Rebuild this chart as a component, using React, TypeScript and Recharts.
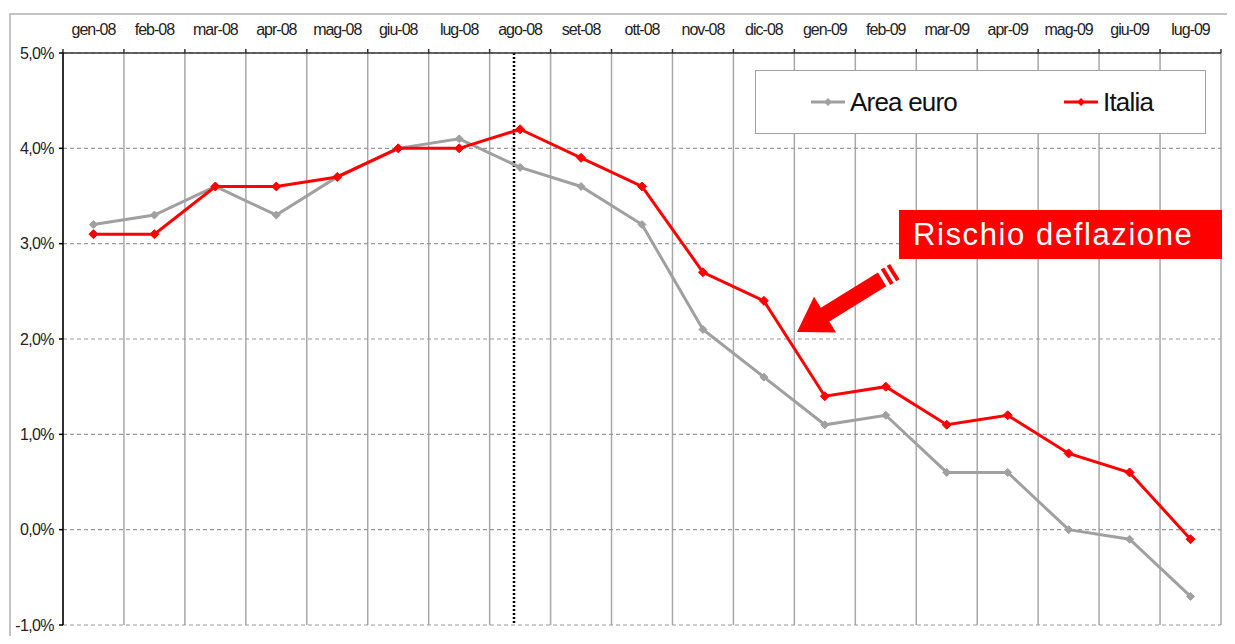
import React from 'react';
import {
  LineChart,
  Line,
  XAxis,
  YAxis,
  CartesianGrid,
  ReferenceLine,
  Legend,
  Customized,
} from 'recharts';

const months = [
  'gen-08', 'feb-08', 'mar-08', 'apr-08', 'mag-08', 'giu-08', 'lug-08', 'ago-08', 'set-08', 'ott-08',
  'nov-08', 'dic-08', 'gen-09', 'feb-09', 'mar-09', 'apr-09', 'mag-09', 'giu-09', 'lug-09',
];
const areaEuro = [3.2, 3.3, 3.6, 3.3, 3.7, 4.0, 4.1, 3.8, 3.6, 3.2, 2.1, 1.6, 1.1, 1.2, 0.6, 0.6, 0.0, -0.1, -0.7];
const italia = [3.1, 3.1, 3.6, 3.6, 3.7, 4.0, 4.0, 4.2, 3.9, 3.6, 2.7, 2.4, 1.4, 1.5, 1.1, 1.2, 0.8, 0.6, -0.1];
const yTicks = [-1, 0, 1, 2, 3, 4, 5];
const seriesNames = { areaEuro: 'Area euro', italia: 'Italia' };
const annotationText = 'Rischio deflazione';
const markerPosition = 6.9; // dotted marker between lug-08 and ago-08

const boundaries = months.map((_, i) => i - 0.5).concat([months.length - 0.5]);
const data = months.map((m, i) => ({ i, m, areaEuro: areaEuro[i], italia: italia[i] }));

const W = 1227;
const H = 628;
const MARGIN = { top: 0, right: 14, bottom: 11, left: 0 };
const Y_W = 55;
const X_H = 45;
const STEP = (W - MARGIN.left - MARGIN.right - Y_W) / months.length;

const FONT = '"Liberation Sans", Arial, sans-serif';
const GRAY = '#a0a0a0';
const RED = '#ff0000';

const XTick = (props: any) => {
  const { x, y, payload } = props;
  const idx = Math.round(payload.value + 0.5);
  if (idx < 0 || idx >= months.length) return null;
  return (
    <text
      x={x + STEP / 2}
      y={y - 12}
      textAnchor="middle"
      fontSize={16}
      letterSpacing={-1}
      fontFamily={FONT}
      fill="#222"
    >
      {months[idx]}
    </text>
  );
};

const Diamond = (color: string, r: number) => (props: any) => {
  const { cx, cy } = props;
  if (cx == null || cy == null) return null;
  return (
    <polygon
      points={`${cx},${cy - r} ${cx + r},${cy} ${cx},${cy + r} ${cx - r},${cy}`}
      fill={color}
      stroke={color}
      strokeWidth={1}
    />
  );
};

const Frame = () => (
  <rect x={2} y={6} width={1400} height={800} fill="none" stroke="#b0b0b0" strokeWidth={1.5} />
);

const Annotation = () => {
  const T = [789, 324];
  const u = [-0.851, 0.526];
  const n = [0.526, 0.851];
  const P = (d: number, w: number) => [T[0] - d * u[0] + w * n[0], T[1] - d * u[1] + w * n[1]];
  const pts = (arr: number[][]) => arr.map((p) => `${p[0].toFixed(1)},${p[1].toFixed(1)}`).join(' ');
  const arrow = pts([P(0, 0), P(33, 21), P(33, 8), P(100, 8), P(100, -8), P(33, -8), P(33, -21)]);
  const stripe1 = pts([P(104, 9), P(108, 9), P(108, -9), P(104, -9)]);
  const stripe2 = pts([P(111, 9), P(115, 9), P(115, -9), P(111, -9)]);
  return (
    <g>
      <rect x={891} y={202} width={323} height={49} fill={RED} />
      <text x={905} y={237} fontSize={31} letterSpacing={1.6} fontFamily={FONT} fill="#fff">
        {annotationText}
      </text>
      <polygon points={arrow} fill={RED} />
      <polygon points={stripe1} fill={RED} />
      <polygon points={stripe2} fill={RED} />
    </g>
  );
};

const LegendItem = ({ color, label, left }: { color: string; label: string; left: number }) => (
  <div style={{ position: 'absolute', left, top: 14, display: 'flex', alignItems: 'center' }}>
    <svg width={36} height={10} style={{ marginRight: 4 }}>
      <line x1={1} y1={5} x2={35} y2={5} stroke={color} strokeWidth={3} />
      <polygon points="18,1 22,5 18,9 14,5" fill={color} />
    </svg>
    <span style={{ fontFamily: FONT, fontSize: 26, letterSpacing: -0.8, color: '#111', lineHeight: '34px' }}>
      {label}
    </span>
  </div>
);

const LegendBox = () => (
  <div
    style={{
      position: 'relative',
      width: 451,
      height: 64,
      border: '1.5px solid #a0a0a0',
      background: '#fff',
      boxSizing: 'border-box',
    }}
  >
    <LegendItem color={GRAY} label={seriesNames.areaEuro} left={54} />
    <LegendItem color={RED} label={seriesNames.italia} left={307} />
  </div>
);

export default function App() {
  return (
    <div style={{ width: W, height: H }}>
      <LineChart width={W} height={H} data={data} margin={MARGIN}>
        <Customized component={Frame} />
        <CartesianGrid horizontal={false} vertical stroke="#a8a8a8" strokeWidth={1.5} />
        <CartesianGrid vertical={false} horizontal stroke="#999" strokeDasharray="4 3" strokeWidth={1.2} />
        <XAxis
          dataKey="i"
          type="number"
          orientation="top"
          domain={[-0.5, months.length - 0.5]}
          ticks={boundaries}
          interval={0}
          height={X_H}
          tickSize={4}
          axisLine={{ stroke: '#333', strokeWidth: 1.5 }}
          tickLine={{ stroke: '#333', strokeWidth: 1.5 }}
          tick={<XTick />}
          allowDataOverflow
        />
        <YAxis
          type="number"
          domain={[-1, 5]}
          ticks={yTicks}
          interval={0}
          width={Y_W}
          tickSize={4}
          tickMargin={5}
          axisLine={{ stroke: '#000', strokeWidth: 1.5 }}
          tickLine={{ stroke: '#000', strokeWidth: 1.5 }}
          tick={{ fontSize: 16, fill: '#222', fontFamily: FONT, letterSpacing: -0.6 }}
          tickFormatter={(v: number) => v.toFixed(1).replace('.', ',') + '%'}
          allowDataOverflow
        />
        <ReferenceLine x={markerPosition} stroke="#000" strokeWidth={2.5} strokeDasharray="2 2" />
        <Line
          dataKey="areaEuro"
          name={seriesNames.areaEuro}
          stroke={GRAY}
          strokeWidth={3}
          dot={Diamond(GRAY, 4)}
          activeDot={false}
          isAnimationActive={false}
        />
        <Line
          dataKey="italia"
          name={seriesNames.italia}
          stroke={RED}
          strokeWidth={3}
          dot={Diamond(RED, 4.5)}
          activeDot={false}
          isAnimationActive={false}
        />
        <Legend
          layout="vertical"
          verticalAlign="middle"
          align="center"
          content={() => <LegendBox />}
          wrapperStyle={{ position: 'absolute', left: 747, top: 62, width: 451, height: 64 }}
        />
        <Customized component={Annotation} />
      </LineChart>
    </div>
  );
}
